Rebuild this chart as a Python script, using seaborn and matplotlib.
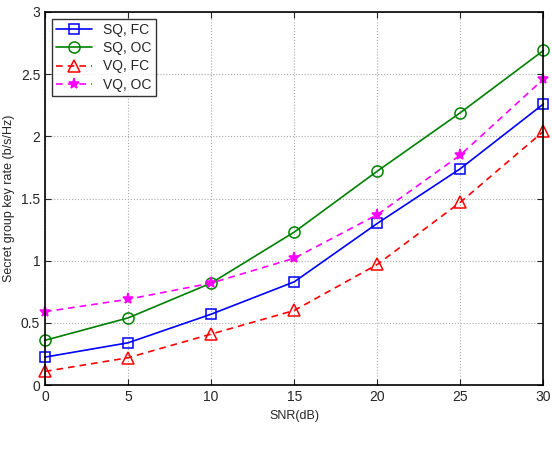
import seaborn as sns
import matplotlib.pyplot as plt

snr = [0, 5, 10, 15, 20, 25, 30]
sq_fc = [0.225, 0.34, 0.57, 0.83, 1.30, 1.74, 2.26]
sq_oc = [0.36, 0.54, 0.82, 1.23, 1.72, 2.19, 2.69]
vq_fc = [0.11, 0.22, 0.41, 0.60, 0.97, 1.47, 2.04]
vq_oc = [0.59, 0.69, 0.82, 1.02, 1.37, 1.85, 2.46]

sns.set_style("white")
plt.rcParams["font.family"] = ["Liberation Sans", "DejaVu Sans"]

fig = plt.figure(figsize=(5.52, 4.59), dpi=100)
ax = fig.add_axes([0.0815, 0.161, 0.903, 0.813])

series = [
    ("SQ, FC", sq_fc, "#0000ff", "s", "-", "none", 7),
    ("SQ, OC", sq_oc, "#008000", "o", "-", "none", 8),
    ("VQ, FC", vq_fc, "#ff0000", "^", (0, (4, 3)), "none", 8),
    ("VQ, OC", vq_oc, "#ff00ff", "*", (0, (4, 3)), "#ff00ff", 8),
]
for label, vals, col, mk, ls, mfc, ms in series:
    sns.lineplot(x=snr, y=vals, ax=ax, label=label, color=col, marker=mk,
                 linestyle=ls, linewidth=1.2, markersize=ms, clip_on=False,
                 markerfacecolor=mfc, markeredgecolor=col, markeredgewidth=1.1)

ax.set_xlim(0, 30)
ax.set_ylim(0, 3)
ax.set_xticks(snr)
ax.set_yticks([0, 0.5, 1, 1.5, 2, 2.5, 3])
ax.set_yticklabels(["0", "0.5", "1", "1.5", "2", "2.5", "3"])
ax.grid(True, linestyle=":", color="#aaaaaa", linewidth=0.8)
ax.tick_params(direction="in", length=4, labelsize=10, left=True, bottom=True, top=True, right=True)
for s in ax.spines.values():
    s.set_color("black")
    s.set_linewidth(1.2)
    s.set_zorder(3)

ax.set_xlabel("SNR(dB)", fontsize=9)
ax.set_ylabel("Secret group key rate (b/s/Hz)", fontsize=9)

leg = ax.legend(loc="upper left", fontsize=10, frameon=True, fancybox=False,
                edgecolor="black", handlelength=2.6, borderpad=0.3, labelspacing=0.3)
leg.get_frame().set_linewidth(1.0)

fig.savefig("out.png", dpi=100)
